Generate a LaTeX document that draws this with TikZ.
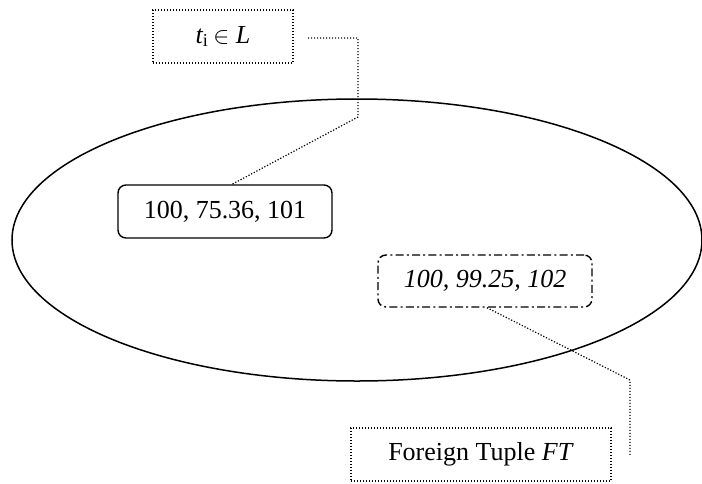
\documentclass[tikz,border=0pt]{standalone}
\usepackage{fontspec}
\setmainfont{Liberation Serif}
\begin{document}
\begin{tikzpicture}[x=0.5pt,y=-0.5pt,
  every node/.style={font=\fontsize{13pt}{15pt}\selectfont, inner sep=0pt},
  dotbox/.style={draw, line width=0.6pt, dash pattern=on 0.6pt off 0.9pt, minimum height=26.5pt},
  tuplebox/.style={draw, line width=0.7pt, rounded corners=4pt, minimum width=107pt, minimum height=26.5pt},
  foreignbox/.style={draw, line width=0.7pt, rounded corners=4pt, dash pattern=on 4pt off 1.6pt on 1pt off 1.6pt, minimum width=107pt, minimum height=26pt},
  leader/.style={line width=0.6pt, dash pattern=on 0.6pt off 0.9pt}]
  \useasboundingbox (0,0) rectangle (702,483);

  % the relation L
  \draw[line width=0.75pt] (357,240) ellipse [x radius=345, y radius=141];

  % tuples
  \node[tuplebox] (own) at (225,211.5) {100, 75.36, 101};
  \node[foreignbox] (foreign) at (485,281) {\itshape 100, 99.25, 102};

  % labels
  \node[dotbox, minimum width=70pt] (label) at (223,36.5) {\itshape t\textsubscript{\upshape i}\,$\in$\ L};
  \node[dotbox, minimum width=130pt] (ftlabel) at (481,454.5) {Foreign Tuple \textit{FT}};

  % leader lines
  \coordinate (a0) at (308,38);
  \coordinate (a1) at (358,117);
  \draw[leader] (a0) -| (a1) -- ([xshift=3.5pt]own.north);
  \coordinate (b1) at (630,380);
  \coordinate (b2) at (630,456);
  \draw[leader] ([xshift=1pt]foreign.south) -- (b1) -- (b2);
\end{tikzpicture}
\end{document}
